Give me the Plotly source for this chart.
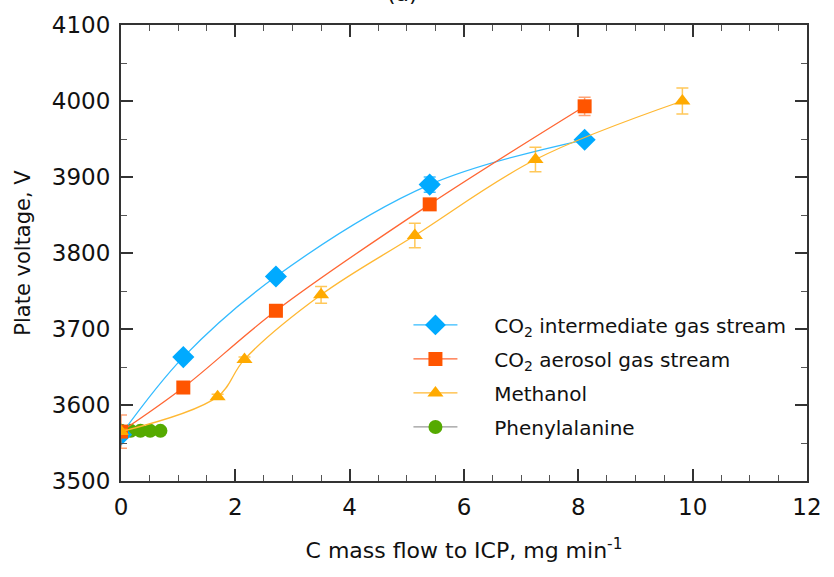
import plotly.graph_objects as go

# C mass flow to ICP (mg/min) and plate voltage (V) for each carbon source
co2_int_x = [0.0, 1.09, 2.71, 5.40, 8.11]
co2_int_y = [3561, 3663, 3769, 3890, 3949]
co2_int_err = [4, 4, 4, 10, 4]

co2_aer_x = [0.0, 1.09, 2.71, 5.40, 8.11]
co2_aer_y = [3565, 3623, 3724, 3864, 3993]
co2_aer_err = [22, 4, 4, 4, 12]

meoh_x = [0.0, 1.69, 2.16, 3.50, 5.14, 7.25, 9.82]
meoh_y = [3565, 3611, 3660, 3745, 3823, 3923, 4000]
meoh_err = [3, 3, 3, 11, 16, 16, 17]

phe_x = [0.0, 0.17, 0.34, 0.51, 0.69]
phe_y = [3566, 3566, 3566, 3566, 3566]
phe_err = [3, 3, 3, 3, 3]

x_ticks = [0, 2, 4, 6, 8, 10, 12]
y_ticks = [3500, 3600, 3700, 3800, 3900, 4000, 4100]

FONT = "DejaVu Sans"
PAD = "\u00a0" * 5  # gap between legend symbol and label

# name, x, y, err, marker colour, line colour, error colour, symbol, size, legend rank
series = [
    ("Phenylalanine", phe_x, phe_y, phe_err,
     "#55AA00", "#999999", "rgba(140,140,140,0.8)", "circle", 14, 4),
    ("CO<sub>2</sub> intermediate gas stream", co2_int_x, co2_int_y, co2_int_err,
     "#00AAFF", "#33BBFF", "rgba(0,170,255,0.75)", "diamond", 17, 1),
    ("CO<sub>2</sub> aerosol gas stream", co2_aer_x, co2_aer_y, co2_aer_err,
     "#FF5500", "#FF6633", "rgba(255,85,0,0.55)", "square", 14, 2),
    ("Methanol", meoh_x, meoh_y, meoh_err,
     "#FFAA00", "#FFB833", "rgba(255,170,0,0.65)", "triangle-up", 14, 3),
]

fig = go.Figure()
for name, xs, ys, err, mcol, lcol, ecol, sym, size, rank in series:
    fig.add_trace(go.Scatter(
        x=xs, y=ys, name=PAD + name, mode="lines+markers",
        legendgroup=f"g{rank}", legendrank=rank,
        line=dict(color=lcol, width=1.3, shape="spline", smoothing=1.0),
        marker=dict(color=mcol, symbol=sym, size=size, line=dict(width=0)),
        error_y=dict(type="data", array=err, visible=True, color=ecol,
                     thickness=1.5, width=6),
    ))

tick_style = dict(
    ticks="inside", ticklen=12, tickwidth=1.5, tickcolor="#333333",
    showgrid=False, zeroline=False,
)
minor_style = dict(ticks="inside", ticklen=6, tickwidth=1.2, tickcolor="#555555",
                   showgrid=False)
label_font = dict(family=FONT, size=23, color="#111111")
title_font = dict(family=FONT, size=21, color="#111111")

fig.update_layout(
    xaxis=dict(
        range=[0, 12], tickvals=x_ticks, ticktext=[str(v) for v in x_ticks],
        minor=dict(dtick=0.5, **minor_style),
        showline=True, linecolor="#333333", linewidth=2, mirror=True,
        tickfont=label_font, ticklabelstandoff=4,
        title=dict(text="C mass flow to ICP, mg min<sup>-1</sup>",
                   font=dict(family=FONT, size=22, color="#111111"), standoff=24),
        **tick_style,
    ),
    yaxis=dict(
        range=[3500, 4100], tickvals=y_ticks, ticktext=[str(v) for v in y_ticks],
        minor=dict(dtick=50, **minor_style),
        showline=True, linecolor="#333333", linewidth=2, mirror=True,
        tickfont=label_font, ticklabelstandoff=4,
        title=dict(text="Plate voltage, V", font=title_font, standoff=16),
        **tick_style,
    ),
    # tick-only axes on the top and right edges of the frame
    xaxis2=dict(
        overlaying="x", matches="x", side="top", showticklabels=False,
        tickvals=x_ticks, minor=dict(dtick=0.5, **minor_style), **tick_style,
    ),
    yaxis2=dict(
        overlaying="y", matches="y", side="right", showticklabels=False,
        tickvals=y_ticks, minor=dict(dtick=50, **minor_style), **tick_style,
    ),
)
# invisible carrier so the top/right tick axes are drawn
fig.add_trace(go.Scatter(x=[None], y=[None], xaxis="x2", yaxis="y2",
                         showlegend=False, hoverinfo="skip"))

fig.add_annotation(
    text="(a)", xref="paper", yref="paper", x=0.41, y=1, yanchor="bottom",
    yshift=17, showarrow=False, font=dict(family=FONT, size=22, color="#111111"),
)

fig.update_layout(
    width=834, height=577,
    margin=dict(l=121, r=21, t=21, b=96),
    paper_bgcolor="white", plot_bgcolor="white",
    showlegend=True,
    legend=dict(
        x=0.419, y=0.385, xanchor="left", yanchor="top",
        font=dict(family=FONT, size=20, color="#111111"),
        bgcolor="rgba(0,0,0,0)", traceorder="grouped", tracegroupgap=5,
        itemwidth=44,
    ),
)

fig.write_html("out.html")
